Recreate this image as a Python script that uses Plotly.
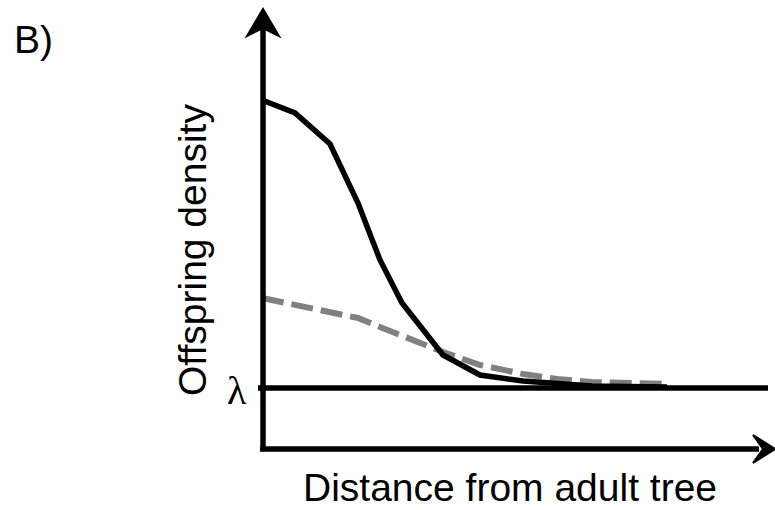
import plotly.graph_objects as go

# Offspring density vs. distance from an adult tree (arbitrary units)
distance = [0, 33, 68, 96, 118, 140, 181, 218, 261, 295, 330, 405]
density_solid = [348, 335, 304, 245, 188, 145, 93, 73, 67, 64, 62, 61]
density_dashed = [150, 143, 137, 130, 121, 112, 96, 83, 74, 69, 66, 64]
lambda_level = 60

X_MIN, X_MAX = -262, 513
Y_MIN, Y_MAX = -62, 448
AXIS_TOP = 439
X_AXIS_Y = -1
LAMBDA_END = 506

FONT = "Liberation Sans, Arial, sans-serif"

fig = go.Figure()

fig.add_trace(go.Scatter(
    x=distance, y=density_dashed, mode="lines",
    line=dict(color="#808080", width=6, dash="22px,8px"),
    hoverinfo="skip", showlegend=False,
))
fig.add_trace(go.Scatter(
    x=distance, y=density_solid, mode="lines",
    line=dict(color="black", width=5.5),
    hoverinfo="skip", showlegend=False,
))

head = dict(color="black", width=2)
shapes = [
    # lambda reference line
    dict(type="line", x0=-4, x1=LAMBDA_END, y0=lambda_level, y1=lambda_level,
         line=dict(color="black", width=5.5)),
    # vertical axis with filled arrow head
    dict(type="line", x0=1, x1=1, y0=X_AXIS_Y - 2, y1=AXIS_TOP - 20,
         line=dict(color="black", width=5.5)),
    dict(type="path",
         path=f"M 1 {AXIS_TOP} L 17 {AXIS_TOP - 27} L 1 {AXIS_TOP - 19} L -15 {AXIS_TOP - 27} Z",
         fillcolor="black", line=head),
    # horizontal axis with filled arrow head
    dict(type="line", x0=-2, x1=X_MAX - 16, y0=X_AXIS_Y, y1=X_AXIS_Y,
         line=dict(color="black", width=5.5)),
    dict(type="path",
         path=f"M {X_MAX} {X_AXIS_Y} L {X_MAX - 22} {X_AXIS_Y + 14} "
              f"L {X_MAX - 12} {X_AXIS_Y} L {X_MAX - 22} {X_AXIS_Y - 14} Z",
         fillcolor="black", line=head),
]

annotations = [
    dict(x=-229, y=409, text="B)", showarrow=False,
         font=dict(family=FONT, size=39, color="black")),
    dict(x=-70, y=198, text="Offspring density", textangle=-90, showarrow=False,
         font=dict(family=FONT, size=39, color="black")),
    dict(x=-25, y=lambda_level - 2, text="λ", showarrow=False,
         font=dict(family="Liberation Serif, Times New Roman, serif", size=40, color="black")),
    dict(x=248, y=-39, text="Distance from adult tree", showarrow=False,
         font=dict(family=FONT, size=39, color="black")),
]

fig.update_layout(
    width=775, height=510,
    margin=dict(l=0, r=0, t=0, b=0, pad=0),
    paper_bgcolor="white", plot_bgcolor="white",
    xaxis=dict(range=[X_MIN, X_MAX], visible=False, fixedrange=True),
    yaxis=dict(range=[Y_MIN, Y_MAX], visible=False, fixedrange=True),
    shapes=shapes, annotations=annotations,
)

fig.write_html("out.html")
